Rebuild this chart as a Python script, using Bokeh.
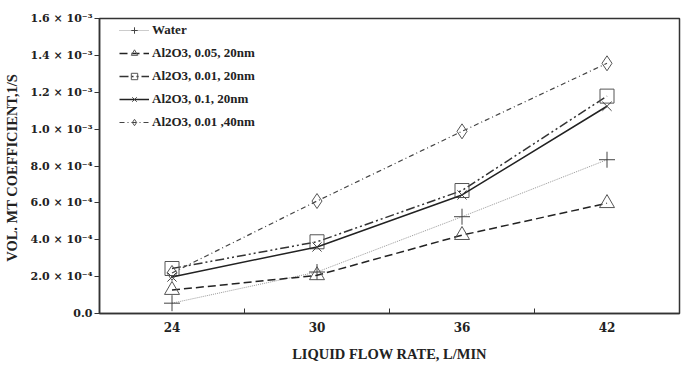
from bokeh.plotting import figure
from bokeh.models import FixedTicker, Legend, LegendItem
from bokeh.embed import file_html
from bokeh.resources import INLINE

flow = [24, 30, 36, 42]
water = [5.6e-5, 2.25e-4, 5.25e-4, 8.34e-4]
al_005_20 = [1.27e-4, 2.07e-4, 4.25e-4, 5.98e-4]
al_001_20 = [2.44e-4, 3.89e-4, 6.67e-4, 1.179e-3]
al_01_20 = [1.98e-4, 3.61e-4, 6.43e-4, 1.124e-3]
al_001_40 = [2.2e-4, 6.1e-4, 9.88e-4, 1.357e-3]

series_names = ["Water", "Al2O3, 0.05, 20nm", "Al2O3, 0.01, 20nm",
                "Al2O3, 0.1, 20nm", "Al2O3, 0.01 ,40nm"]

x_ticks = [24, 30, 36, 42]
x_minor = [27, 33, 39]
y_ticks = [0.0, 0.0002, 0.0004, 0.0006, 0.0008, 0.001, 0.0012, 0.0014, 0.0016]
y_tick_labels = ["0.0", "2.0 × 10⁻⁴", "4.0 × 10⁻⁴", "6.0 × 10⁻⁴", "8.0 × 10⁻⁴",
                 "1.0 × 10⁻³", "1.2 × 10⁻³", "1.4 × 10⁻³", "1.6 × 10⁻³"]

FONT = "Liberation Serif"
TICKFONT = "DejaVu Serif"

p = figure(width=684, height=365, output_backend="svg", toolbar_location=None,
           x_range=(21, 45), y_range=(0, 0.0016),
           min_border_left=98, min_border_right=5, min_border_top=18, min_border_bottom=52)

p.xgrid.visible = False
p.ygrid.visible = False
p.outline_line_color = "#333333"
p.outline_line_width = 1.5
p.background_fill_color = "white"
p.border_fill_color = "white"

# X axis
p.xaxis.ticker = FixedTicker(ticks=x_ticks, minor_ticks=x_minor)
p.xaxis.major_tick_in = 0
p.xaxis.major_tick_out = 0
p.xaxis.minor_tick_in = 5
p.xaxis.minor_tick_out = 0
p.xaxis.minor_tick_line_color = "#333333"
p.xaxis.axis_line_color = "#333333"
p.xaxis.axis_line_width = 1.5
p.xaxis.major_label_standoff = 8
p.xaxis.major_label_text_font = TICKFONT
p.xaxis.major_label_text_font_style = "bold"
p.xaxis.major_label_text_font_size = "12px"
p.xaxis.major_label_text_color = "#222222"
p.xaxis.axis_label = "LIQUID FLOW RATE, L/MIN"
p.xaxis.axis_label_text_font = FONT
p.xaxis.axis_label_text_font_style = "bold"
p.xaxis.axis_label_text_font_size = "14.5px"
p.xaxis.axis_label_text_color = "#222222"
p.xaxis.axis_label_standoff = 11

# Y axis
p.yaxis.ticker = FixedTicker(ticks=y_ticks, minor_ticks=[])
p.yaxis.major_label_overrides = {t: s for t, s in zip(y_ticks, y_tick_labels)}
p.yaxis.major_tick_in = 0
p.yaxis.major_tick_out = 5
p.yaxis.major_tick_line_color = "#333333"
p.yaxis.axis_line_color = "#333333"
p.yaxis.axis_line_width = 1.5
p.yaxis.major_label_standoff = 2
p.yaxis.major_label_text_font = TICKFONT
p.yaxis.major_label_text_font_style = "bold"
p.yaxis.major_label_text_font_size = "11px"
p.yaxis.major_label_text_color = "#222222"
p.yaxis.axis_label = "VOL.  MT COEFFICIENT,1/S"
p.yaxis.axis_label_text_font = FONT
p.yaxis.axis_label_text_font_style = "bold"
p.yaxis.axis_label_text_font_size = "14.5px"
p.yaxis.axis_label_text_color = "#222222"
p.yaxis.axis_label_standoff = 8

items = []

# Water
l1 = p.line(flow, water, line_color="#999999", line_width=1, line_dash="1 1")
m1 = p.scatter(flow, water, marker="cross", size=16, line_color="#444444",
               fill_color=None, line_width=1)
items.append(LegendItem(label=series_names[0], renderers=[l1, m1]))

# Al2O3 0.05 20nm
l2 = p.line(flow, al_005_20, line_color="#222222", line_width=1.5, line_dash="8 4")
m2 = p.scatter(flow, al_005_20, marker="triangle", size=15, line_color="#555555",
               fill_color=None, line_width=1)
items.append(LegendItem(label=series_names[1], renderers=[l2, m2]))

# Al2O3 0.01 20nm
l3 = p.line(flow, al_001_20, line_color="#333333", line_width=1.5, line_dash="9 3 2 3 2 3")
m3 = p.scatter(flow, al_001_20, marker="square", size=14, line_color="#555555",
               fill_color=None, line_width=1)
items.append(LegendItem(label=series_names[2], renderers=[l3, m3]))

# Al2O3 0.1 20nm
l4 = p.line(flow, al_01_20, line_color="#222222", line_width=1.5)
m4 = p.scatter(flow, al_01_20, marker="x", size=13, line_color="#444444",
               fill_color=None, line_width=1)
items.append(LegendItem(label=series_names[3], renderers=[l4, m4]))

# Al2O3 0.01 40nm
l5 = p.line(flow, al_001_40, line_color="#444444", line_width=1.2, line_dash="5 3 1 3")
m5 = p.scatter(flow, al_001_40, marker="diamond", size=15, line_color="#555555",
               fill_color=None, line_width=1)
items.append(LegendItem(label=series_names[4], renderers=[l5, m5]))

legend = Legend(items=items, location=(20, 183))
legend.border_line_color = None
legend.background_fill_alpha = 0
legend.label_text_font = FONT
legend.label_text_font_style = "bold"
legend.label_text_font_size = "13px"
legend.label_text_color = "#222222"
legend.glyph_width = 30
legend.glyph_height = 16
legend.spacing = 7
legend.padding = 0
legend.margin = 0
legend.label_standoff = 3
p.add_layout(legend)

open("out.html", "w").write(file_html(p, INLINE))
